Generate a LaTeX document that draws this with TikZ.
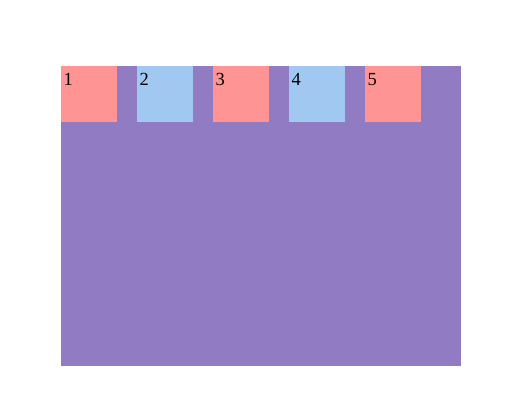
\documentclass[tikz,border=0pt]{standalone}
\usepackage{fontspec}
\setmainfont{Liberation Serif}
\usetikzlibrary{positioning}
\definecolor{flexbg}{RGB}{145,124,195}
\definecolor{itempink}{RGB}{255,148,148}
\definecolor{itemblue}{RGB}{160,200,240}
\tikzset{
  item/.style={minimum width=56pt, minimum height=56pt, inner sep=0pt, outer sep=0pt, anchor=north west},
  num/.style={anchor=north west, inner sep=0pt, font=\fontsize{18.5}{22}\selectfont}
}

\begin{document}
\begin{tikzpicture}[x=1pt, y=1pt]
                        \useasboundingbox (0,0) rectangle (527,-418);
                        \node[fill=flexbg, minimum width=400pt, minimum height=300pt, inner sep=0pt, anchor=north west] (box) at (61,-66) {};
                        \node[item, fill=itempink] (i1) at (box.north west) {};
                        \node[item, fill=itemblue, right=20pt of i1.north east, anchor=north west] (i2) {};
                        \node[item, fill=itempink, right=20pt of i2.north east, anchor=north west] (i3) {};
                        \node[item, fill=itemblue, right=20pt of i3.north east, anchor=north west] (i4) {};
                        \node[item, fill=itempink, right=20pt of i4.north east, anchor=north west] (i5) {};
                        \node[num] (n1) at ([shift={(2.5,-7)}]i1.north west) {1};
                        \node[num] (n2) at ([shift={(2.5,-7)}]i2.north west) {2};
                        \node[num] (n3) at ([shift={(2.5,-7)}]i3.north west) {3};
                        \node[num] (n4) at ([shift={(2.5,-7)}]i4.north west) {4};
                        \node[num] (n5) at ([shift={(2.5,-7)}]i5.north west) {5};
                    \end{tikzpicture}
\end{document}
